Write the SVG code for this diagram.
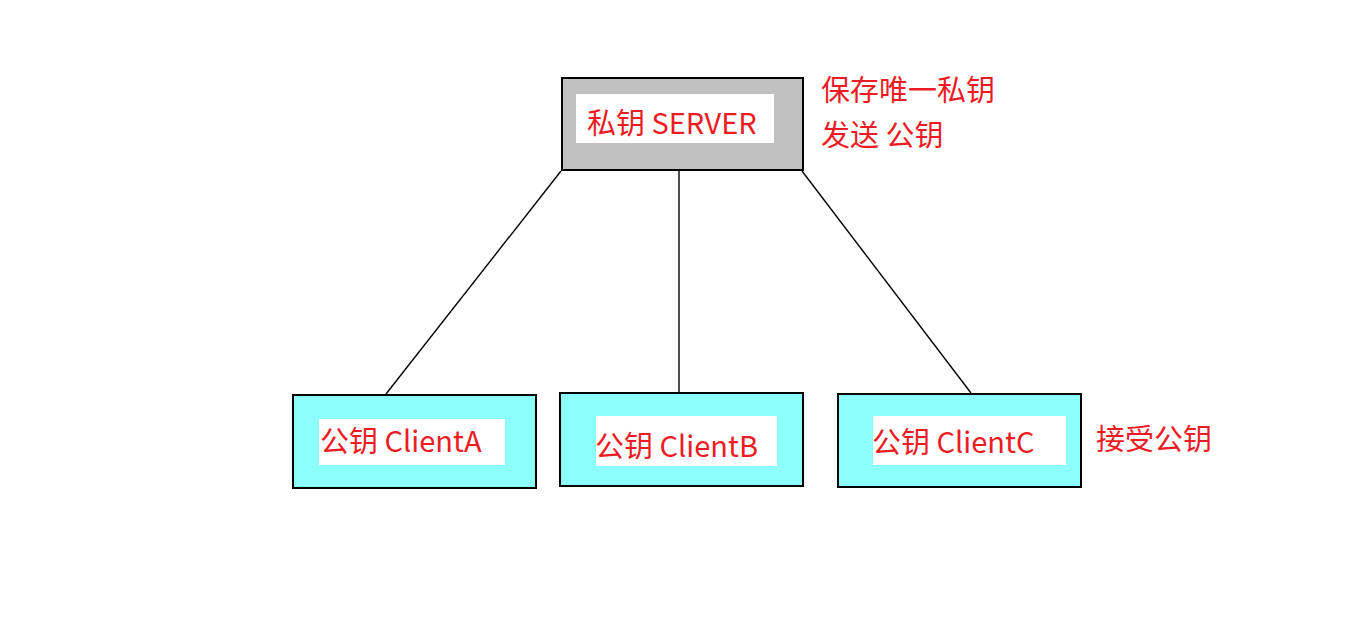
<svg xmlns="http://www.w3.org/2000/svg" width="1350" height="629" viewBox="0 0 1350 629">
<style>
.t{font-family:"Noto Sans CJK SC","Noto Sans",sans-serif;font-size:29px;fill:#ed1c24}
.srv{fill:#c0c0c0;stroke:#000;stroke-width:2}
.cli{fill:#8cfffa;stroke:#000;stroke-width:2}
.lbl{fill:#fff}
.ln{stroke:#000;stroke-width:1.4;fill:none}
</style>
<rect width="1350" height="629" fill="#fff"/>
<g id="connectors">
<line class="ln" x1="561" y1="171" x2="386" y2="394"/>
<line class="ln" x1="679" y1="171" x2="679" y2="392"/>
<line class="ln" x1="802" y1="171" x2="971" y2="393"/>
</g>
<g id="server">
<rect class="srv" x="562" y="78" width="241" height="92"/>
<rect class="lbl" x="576" y="94" width="198" height="49"/>
<text class="t" x="587" y="134">私钥 SERVER</text>
</g>
<g id="server-note">
<text class="t" x="821" y="101">保存唯一私钥</text>
<text class="t" x="821" y="146">发送 公钥</text>
</g>
<g id="clientA">
<rect class="cli" x="293" y="395" width="243" height="93"/>
<rect class="lbl" x="319" y="419" width="186" height="46"/>
<text class="t" x="320" y="452">公钥 ClientA</text>
</g>
<g id="clientB">
<rect class="cli" x="560" y="393" width="243" height="93"/>
<rect class="lbl" x="596" y="416" width="181" height="50"/>
<text class="t" x="595" y="457">公钥 ClientB</text>
</g>
<g id="clientC">
<rect class="cli" x="838" y="394" width="243" height="93"/>
<rect class="lbl" x="873" y="416" width="193" height="49"/>
<text class="t" x="872" y="453">公钥 ClientC</text>
</g>
<g id="clientC-note">
<text class="t" x="1096" y="450">接受公钥</text>
</g>
</svg>
